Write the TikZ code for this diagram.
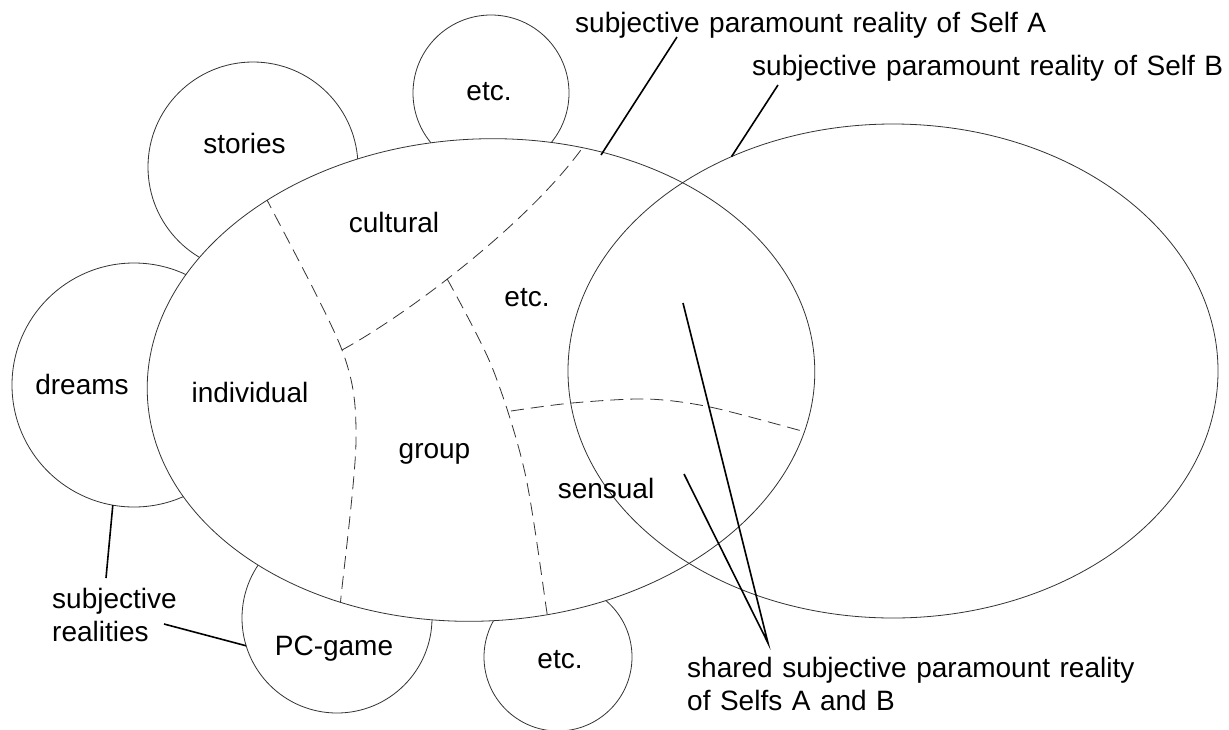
\documentclass[tikz,border=0pt]{standalone}
\usepackage{fontspec}
\setmainfont{Liberation Sans}
\usepackage{tikz}
\usetikzlibrary{shapes.geometric}
\newcommand{\labfont}{\fontsize{28}{33}\selectfont\spaceskip=0.34em\relax}

\begin{document}
\begin{tikzpicture}[
  x=1pt, y=-1pt,
  realm/.style={draw=black!80, line width=0.8pt, circle, inner sep=0pt, outer sep=0pt},
  self/.style={draw=black!80, line width=0.8pt, ellipse, inner sep=0pt, outer sep=0pt},
  sep/.style={draw=black!80, line width=0.8pt, dash pattern=on 13pt off 7pt},
  lead/.style={draw=black, line width=1.6pt},
  lab/.style={font=\labfont, inner sep=0pt},
]
\useasboundingbox[fill=white] (0,0) rectangle (1229,729);
% subjective realities round the paramount reality
\node[realm, minimum size=156pt] (etcTopC) at (491,93) {};
\node[realm, minimum size=210pt] (storiesC) at (253,167) {};
\node[realm, minimum size=244pt] (dreamsC) at (134,385) {};
\node[realm, minimum size=190pt] (pcC) at (337,618) {};
\node[realm, minimum size=148pt] (etcBotC) at (558,657) {};
% paramount reality of Self A
\node[self, fill=white, minimum width=668pt, minimum height=482pt, rotate=3] (selfA) at (481,380) {};
\coordinate (j12) at (342,350);
\begin{scope}
  \clip[rotate around={3:(481,380)}] (481,380) ellipse [x radius=334, y radius=241];
  \draw[sep] plot[smooth] coordinates {(258,182) (265,196) (j12) (356,440) (341,597) (339,612)};
  \draw[sep] (j12) .. controls (410,313) and (540,215) .. coordinate[pos=0.41] (j23) (592,134);
  \draw[sep] plot[smooth] coordinates {(j23) (492,367) (525,473) (547,613) (549,630)};
  \draw[sep] plot[smooth] coordinates {(511,411) (572,403) (647,399) (710,407) (802,431) (815,435)};
\end{scope}
% paramount reality of Self B
\node[self, minimum width=650pt, minimum height=494pt] (selfB) at (893,371) {};
% labels
\node[lab, anchor=base] (stories) at (244.5,153) {stories};
\node[lab, anchor=base] (etcTop) at (489,100) {etc.};
\node[lab, anchor=base] (cultural) at (394,232) {cultural};
\node[lab, anchor=base] (etcMid) at (527,306) {etc.};
\node[lab, anchor=base] (dreams) at (82,394) {dreams};
\node[lab, anchor=base] (individual) at (250,402) {individual};
\node[lab, anchor=base] (group) at (434.5,458) {group};
\node[lab, anchor=base] (sensual) at (606,498) {sensual};
\node[lab, anchor=base] (pcgame) at (334,655) {PC-game};
\node[lab, anchor=base] (etcBot) at (560,668) {etc.};
\node[lab, anchor=base west, align=left] (subjReal) at (52,641) {subjective\\realities};
\node[lab, anchor=base west, align=left] (shared) at (687,710) {shared subjective paramount reality\\of Selfs A and B};
\node[lab, anchor=base west] (labA) at (575,32) {subjective paramount reality of Self A};
\node[lab, anchor=base west] (labB) at (752,75) {subjective paramount reality of Self B};
% leaders
\coordinate (aTop) at (677,37);
\coordinate (aEnd) at (601,155);
\coordinate (bTop) at (778,85);
\coordinate (rTop) at (106,578);
\coordinate (rSide) at (164,624);
\coordinate (tip) at (768,643);
\coordinate (sh1) at (683,303);
\coordinate (sh2) at (684,474);
\draw[lead] (aTop) -- (aEnd);
\draw[lead] (bTop) -- (selfB.127);
\draw[lead] (dreamsC.260) -- (rTop);
\draw[lead] (rSide) -- (pcC.197);
\draw[lead] (sh1) -- (tip) -- (sh2);
\end{tikzpicture}
\end{document}
